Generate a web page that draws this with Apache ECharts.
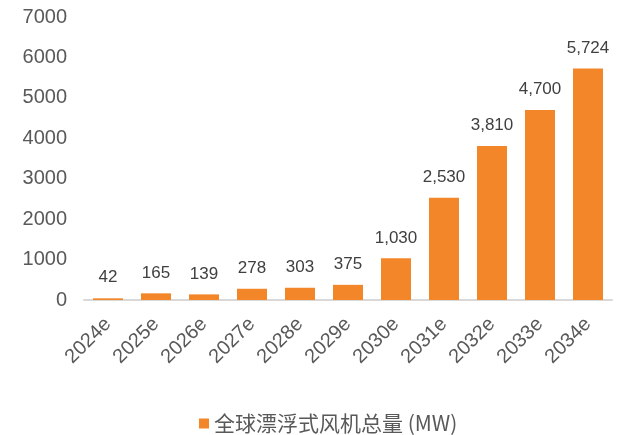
<!DOCTYPE html>
<html><head><meta charset="utf-8">
<script src="https://cdn.jsdelivr.net/npm/echarts@6/dist/echarts.min.js"></script>
<style>html,body{margin:0;padding:0;background:#fff}#c{width:623px;height:435px}</style>
</head><body><div id="c"></div>
<script>
const categories = ['2024e','2025e','2026e','2027e','2028e','2029e','2030e','2031e','2032e','2033e','2034e'];
const values = [42,165,139,278,303,375,1030,2530,3810,4700,5724];
const seriesName = '全球漂浮式风机总量 (MW)';
const chart = echarts.init(document.getElementById('c'));
const font = 'Liberation Sans, Arial, "Noto Sans CJK SC", sans-serif';
chart.setOption({
  animation:false,
  textStyle:{fontFamily:font},
  grid:{left:84,right:11,top:17,bottom:135},
  legend:{bottom:1,left:199,itemWidth:10,itemHeight:10,icon:'rect',itemGap:6,padding:0,
    textStyle:{fontSize:21,color:'#595959',fontFamily:'"Noto Sans CJK SC", sans-serif'},data:[seriesName]},
  xAxis:{type:'category',data:categories,
    axisLine:{lineStyle:{color:'#d9d9d9',width:2}},axisTick:{show:false},
    axisLabel:{rotate:45,fontSize:20,color:'#595959',margin:21,interval:0}},
  yAxis:{type:'value',min:0,max:7000,interval:1000,splitLine:{show:false},
    axisLabel:{fontSize:20,color:'#595959',margin:17,formatter:v=>String(v)}},
  series:[{name:seriesName,type:'bar',data:values,barWidth:30,itemStyle:{color:'#F4862A'},
    label:{show:true,position:'top',distance:12,fontSize:17,color:'#404040',
      formatter:p=>p.value.toLocaleString('en-US')}}]
});
</script></body></html>
